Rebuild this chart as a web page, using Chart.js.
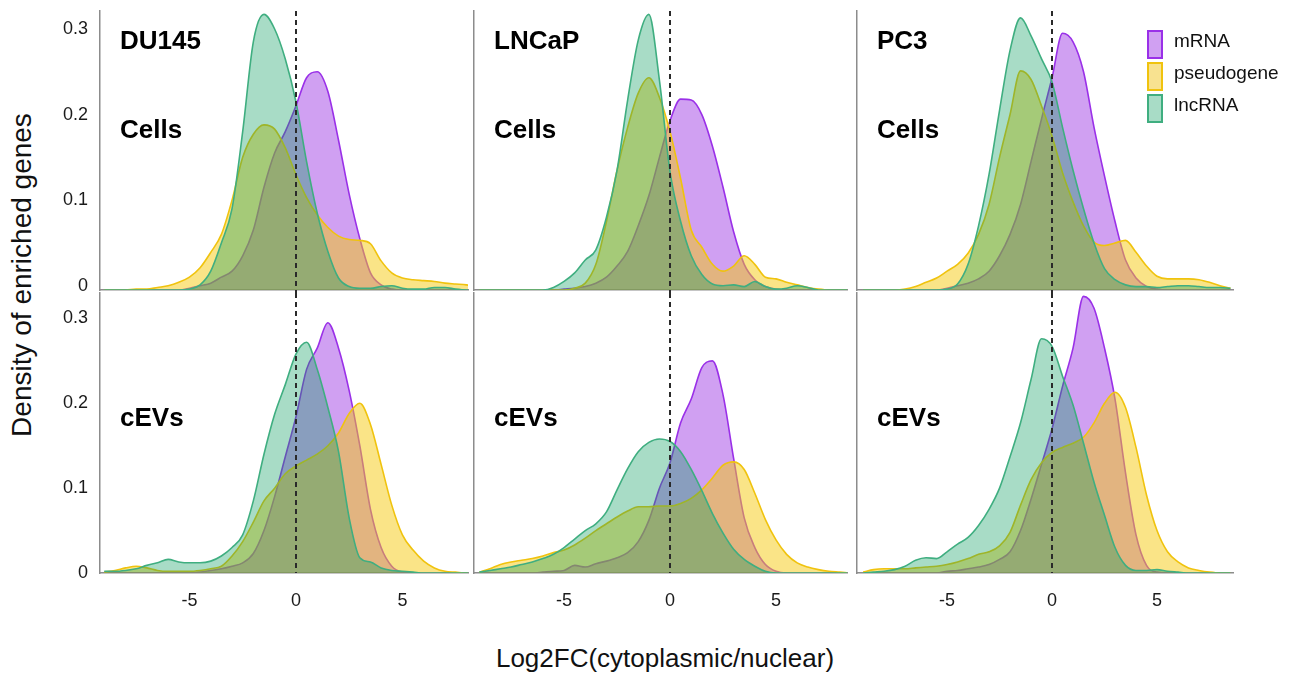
<!DOCTYPE html>
<html lang="en">
<head>
<meta charset="utf-8">
<title>Density of enriched genes</title>
<script src="https://cdn.jsdelivr.net/npm/chart.js@4.4.1/dist/chart.umd.min.js"></script>
<style>
  html, body { margin: 0; padding: 0; background: #fff; }
  body {
    position: relative; width: 1305px; height: 680px; overflow: hidden;
    font-family: "Liberation Sans", Arial, sans-serif; color: #111;
  }
  canvas { position: absolute; }
  .axis-title { position: absolute; white-space: nowrap; text-align: center; }
  #y-title { left: -178px; top: 261px; width: 400px; font-size: 28px; line-height: 28px; transform: rotate(-90deg); }
  #x-title { left: 365px; top: 645px; width: 600px; font-size: 26px; line-height: 26px; }
  .key-box { position: absolute; left: 1147px; width: 16px; height: 29px; box-sizing: border-box; border: 2px solid; }
  .key-text { position: absolute; left: 1174px; font-size: 19px; line-height: 20px; white-space: nowrap; }
</style>
</head>
<body>
<div id="y-title" class="axis-title">Density of enriched genes</div>
<div id="x-title" class="axis-title">Log2FC(cytoplasmic/nuclear)</div>

<script>
// log2 fold change grid shared by all density curves
const logFC = [-9, -8.5, -8, -7.5, -7, -6.5, -6, -5.5, -5, -4.5, -4, -3.5, -3, -2.5, -2, -1.5, -1, -0.5,
               0, 0.5, 1, 1.5, 2, 2.5, 3, 3.5, 4, 4.5, 5, 5.5, 6, 6.5, 7, 7.5, 8, 8.5];

// cells
const du145CellsMrna   = [0, 0, 0, 0, 0, 0, 0, 0, 0.002, 0.005, 0.008, 0.015, 0.022, 0.04, 0.07, 0.12, 0.16, 0.185, 0.215, 0.248, 0.255, 0.232, 0.175, 0.112, 0.06, 0.02, 0.006, 0.001, 0, 0, 0, 0, 0, 0, 0, 0];
const du145CellsPseudo = [0, 0, 0, 0.001, 0.001, 0.003, 0.005, 0.009, 0.015, 0.026, 0.044, 0.065, 0.105, 0.155, 0.182, 0.193, 0.188, 0.166, 0.135, 0.108, 0.088, 0.073, 0.063, 0.059, 0.058, 0.054, 0.034, 0.02, 0.014, 0.012, 0.011, 0.01, 0.008, 0.007, 0.006, 0.004];
const du145CellsLnc    = [0, 0, 0, 0, 0, 0, 0, 0, 0.001, 0.006, 0.022, 0.055, 0.095, 0.185, 0.29, 0.322, 0.305, 0.27, 0.22, 0.15, 0.09, 0.045, 0.014, 0.004, 0.002, 0.002, 0.004, 0.005, 0.002, 0.001, 0.001, 0.003, 0.003, 0.001, 0, 0];

const lncapCellsMrna   = [0, 0, 0, 0, 0, 0, 0, 0, 0.001, 0.002, 0.004, 0.008, 0.015, 0.028, 0.045, 0.075, 0.11, 0.155, 0.198, 0.223, 0.222, 0.205, 0.168, 0.12, 0.068, 0.03, 0.012, 0.004, 0.001, 0, 0, 0, 0, 0, 0, 0];
const lncapCellsPseudo = [0, 0, 0, 0, 0, 0, 0, 0, 0, 0.002, 0.008, 0.03, 0.08, 0.14, 0.19, 0.23, 0.248, 0.225, 0.185, 0.13, 0.07, 0.05, 0.03, 0.022, 0.028, 0.04, 0.03, 0.015, 0.013, 0.009, 0.006, 0.003, 0.001, 0, 0, 0];
const lncapCellsLnc    = [0, 0, 0, 0, 0, 0, 0, 0.003, 0.01, 0.02, 0.035, 0.047, 0.085, 0.14, 0.222, 0.292, 0.322, 0.245, 0.138, 0.08, 0.04, 0.018, 0.007, 0.005, 0.006, 0.004, 0.01, 0.004, 0.001, 0.002, 0.005, 0.003, 0, 0, 0, 0];

const pc3CellsMrna   = [0, 0, 0, 0, 0, 0, 0, 0, 0.002, 0.005, 0.008, 0.013, 0.022, 0.04, 0.065, 0.1, 0.15, 0.2, 0.248, 0.3, 0.29, 0.255, 0.19, 0.133, 0.08, 0.035, 0.014, 0.004, 0.001, 0, 0, 0, 0, 0, 0, 0];
const pc3CellsPseudo = [0, 0, 0, 0, 0.001, 0.004, 0.009, 0.014, 0.022, 0.03, 0.043, 0.065, 0.1, 0.155, 0.205, 0.256, 0.246, 0.215, 0.18, 0.137, 0.103, 0.075, 0.056, 0.052, 0.055, 0.058, 0.044, 0.028, 0.016, 0.013, 0.013, 0.013, 0.012, 0.009, 0.005, 0.002];
const pc3CellsLnc    = [0, 0, 0, 0, 0, 0, 0, 0, 0.001, 0.007, 0.03, 0.075, 0.135, 0.21, 0.28, 0.318, 0.297, 0.27, 0.243, 0.19, 0.14, 0.095, 0.055, 0.025, 0.012, 0.006, 0.004, 0.004, 0.003, 0.004, 0.005, 0.005, 0.004, 0.003, 0.003, 0.002];

// cEVs
const du145EvMrna   = [0, 0, 0, 0, 0, 0, 0, 0, 0, 0.001, 0.003, 0.005, 0.008, 0.012, 0.023, 0.05, 0.09, 0.137, 0.184, 0.24, 0.265, 0.295, 0.265, 0.215, 0.15, 0.075, 0.03, 0.008, 0.001, 0, 0, 0, 0, 0, 0, 0];
const du145EvPseudo = [0.001, 0.003, 0.006, 0.008, 0.006, 0.003, 0.002, 0.002, 0.002, 0.003, 0.005, 0.008, 0.02, 0.037, 0.06, 0.085, 0.1, 0.117, 0.126, 0.133, 0.14, 0.15, 0.165, 0.188, 0.2, 0.175, 0.128, 0.08, 0.045, 0.027, 0.014, 0.006, 0.002, 0.001, 0, 0];
const du145EvLnc    = [0.002, 0.002, 0.003, 0.005, 0.009, 0.012, 0.016, 0.013, 0.012, 0.012, 0.014, 0.02, 0.03, 0.045, 0.085, 0.14, 0.187, 0.222, 0.258, 0.272, 0.24, 0.195, 0.143, 0.065, 0.018, 0.013, 0.006, 0.003, 0.002, 0.001, 0, 0, 0, 0, 0, 0];

const lncapEvMrna   = [0, 0, 0, 0, 0, 0, 0.001, 0.002, 0.003, 0.009, 0.007, 0.011, 0.014, 0.018, 0.024, 0.037, 0.062, 0.1, 0.13, 0.177, 0.205, 0.242, 0.25, 0.21, 0.135, 0.065, 0.03, 0.01, 0.002, 0, 0, 0, 0, 0, 0, 0];
const lncapEvPseudo = [0.001, 0.005, 0.01, 0.013, 0.015, 0.017, 0.02, 0.024, 0.027, 0.033, 0.041, 0.05, 0.058, 0.066, 0.073, 0.078, 0.078, 0.079, 0.079, 0.082, 0.088, 0.098, 0.112, 0.127, 0.131, 0.122, 0.094, 0.063, 0.039, 0.022, 0.012, 0.007, 0.004, 0.002, 0.001, 0];
const lncapEvLnc    = [0.001, 0.003, 0.005, 0.007, 0.01, 0.013, 0.017, 0.022, 0.03, 0.04, 0.05, 0.058, 0.072, 0.098, 0.123, 0.143, 0.154, 0.158, 0.155, 0.143, 0.122, 0.097, 0.07, 0.047, 0.028, 0.016, 0.008, 0.002, 0, 0, 0, 0, 0, 0, 0, 0];

const pc3EvMrna   = [0, 0, 0, 0, 0, 0, 0, 0, 0.002, 0.003, 0.005, 0.007, 0.01, 0.016, 0.025, 0.05, 0.087, 0.128, 0.17, 0.22, 0.265, 0.326, 0.312, 0.265, 0.205, 0.118, 0.045, 0.009, 0.001, 0, 0, 0, 0, 0, 0, 0];
const pc3EvPseudo = [0.001, 0.004, 0.005, 0.005, 0.005, 0.006, 0.007, 0.008, 0.01, 0.013, 0.017, 0.022, 0.025, 0.032, 0.048, 0.08, 0.11, 0.13, 0.142, 0.148, 0.153, 0.16, 0.177, 0.2, 0.213, 0.195, 0.148, 0.092, 0.05, 0.025, 0.013, 0.006, 0.003, 0.001, 0, 0];
const pc3EvLnc    = [0, 0.001, 0.002, 0.004, 0.008, 0.015, 0.018, 0.017, 0.025, 0.034, 0.042, 0.056, 0.075, 0.1, 0.137, 0.177, 0.228, 0.276, 0.267, 0.232, 0.198, 0.153, 0.107, 0.068, 0.03, 0.009, 0.003, 0.003, 0.004, 0.002, 0.001, 0, 0, 0, 0, 0];

const cellLines  = ['DU145', 'LNCaP', 'PC3'];
const conditions = ['Cells', 'cEVs'];
const rnaTypes   = ['mRNA', 'pseudogene', 'lncRNA'];
const yTicks = [0, 0.1, 0.2, 0.3];
const xTicks = [-5, 0, 5];

// one row per condition, one entry per cell line: [mRNA, pseudogene, lncRNA]
const curves = [
  [[du145CellsMrna, du145CellsPseudo, du145CellsLnc],
   [lncapCellsMrna, lncapCellsPseudo, lncapCellsLnc],
   [pc3CellsMrna, pc3CellsPseudo, pc3CellsLnc]],
  [[du145EvMrna, du145EvPseudo, du145EvLnc],
   [lncapEvMrna, lncapEvPseudo, lncapEvLnc],
   [pc3EvMrna, pc3EvPseudo, pc3EvLnc]]
];

// translucent fills stacked mRNA -> pseudogene -> lncRNA
const lineColors = ['#9a30e8', '#f0c30e', '#3fae80'];
const fillColors = ['rgba(161, 65, 229, 0.5)', 'rgba(245, 201, 15, 0.5)', 'rgba(6, 155, 92, 0.35)'];
const keyColors  = ['#d0a0f2', '#f8e290', '#a8dcc6'];

// plot rectangles on the page
const columns = [
  { left: 100, right: 468, xMin: -9.2, xMax: 8.08 },
  { left: 474, right: 847, xMin: -9.25, xMax: 8.35 },
  { left: 857, right: 1233, xMin: -9.29, xMax: 8.62 }
];
const rows = [
  { top: 11, bottom: 290, yMax: 0.326, tickShift: -4, dashBelow: 8, condY: 127 },
  { top: 293, bottom: 573, yMax: 0.33, tickShift: 0, dashBelow: 0, condY: 133 }
];

Chart.defaults.font.family = '"Liberation Sans", Arial, sans-serif';
Chart.defaults.color = '#1a1a1a';

// dashed reference line at log2FC = 0
const zeroLine = {
  id: 'zeroLine',
  afterDatasetsDraw(chart, args, opts) {
    const { ctx, chartArea, scales } = chart;
    const x = Math.round(scales.x.getPixelForValue(0));
    ctx.save();
    ctx.strokeStyle = '#2a2a2a';
    ctx.lineWidth = 2;
    ctx.setLineDash([5, 4]);
    ctx.beginPath();
    ctx.moveTo(x, chartArea.top);
    ctx.lineTo(x, chartArea.bottom + opts.below);
    ctx.stroke();
    ctx.restore();
  }
};

// cell line and condition names inside each panel
const panelLabels = {
  id: 'panelLabels',
  afterDraw(chart, args, opts) {
    const { ctx, chartArea } = chart;
    ctx.save();
    ctx.fillStyle = '#000';
    ctx.font = 'bold 26px "Liberation Sans", Arial, sans-serif';
    ctx.textBaseline = 'alphabetic';
    if (opts.cellLine) ctx.fillText(opts.cellLine, chartArea.left + 20, chartArea.top + 38);
    ctx.fillText(opts.condition, chartArea.left + 20, chartArea.top + opts.condY);
    ctx.restore();
  }
};

rows.forEach((row, r) => {
  columns.forEach((col, c) => {
    // room around the plot; the y scale reserves label space above and below
    const padL = c === 0 ? 70 : 8;
    const padR = 8, padT = 28;
    const padB = r === 1 ? 50 : 28;

    const canvas = document.createElement('canvas');
    canvas.width = (col.right - col.left) + padL + padR;
    canvas.height = (row.bottom - row.top) + padT + padB;
    canvas.style.left = (col.left - padL) + 'px';
    canvas.style.top = (row.top - padT) + 'px';
    document.body.appendChild(canvas);

    const datasets = rnaTypes.map((name, k) => ({
      label: name,
      data: logFC.map((x, i) => ({ x: x, y: curves[r][c][k][i] })),
      borderColor: lineColors[k],
      backgroundColor: fillColors[k],
      borderWidth: 1.6,
      fill: 'origin',
      pointRadius: 0,
      cubicInterpolationMode: 'monotone',
      order: 3 - k
    }));

    new Chart(canvas.getContext('2d'), {
      type: 'line',
      data: { datasets: datasets },
      plugins: [zeroLine, panelLabels],
      options: {
        responsive: false,
        animation: false,
        events: [],
        layout: { padding: { top: padT, right: padR, left: 0, bottom: 0 } },
        plugins: {
          legend: { display: false },
          tooltip: { enabled: false },
          zeroLine: { below: row.dashBelow },
          panelLabels: { cellLine: r === 0 ? cellLines[c] : '', condition: conditions[r], condY: row.condY }
        },
        scales: {
          x: {
            type: 'linear',
            min: col.xMin,
            max: col.xMax,
            grid: { display: false, drawTicks: false },
            border: { display: true, color: '#8c8c8c', width: 1.5 },
            afterBuildTicks: s => { s.ticks = xTicks.map(v => ({ value: v })); },
            ticks: {
              display: r === 1,
              includeBounds: false,
              padding: 17,
              font: { size: 18 },
              callback: v => String(v)
            },
            afterFit: s => { s.height = padB; }
          },
          y: {
            min: 0,
            max: row.yMax,
            grid: { display: false, drawTicks: false },
            border: { display: true, color: '#8c8c8c', width: 1.5 },
            afterBuildTicks: s => { s.ticks = yTicks.map(v => ({ value: v })); },
            ticks: {
              display: c === 0,
              includeBounds: false,
              padding: 12,
              labelOffset: row.tickShift,
              font: { size: 18 },
              callback: v => (v === 0 ? '0' : v.toFixed(1))
            },
            afterFit: s => { s.width = padL; }
          }
        }
      }
    });
  });
});

// legend in the upper right corner
rnaTypes.forEach((name, k) => {
  const box = document.createElement('div');
  box.className = 'key-box';
  box.style.top = (30 + 32 * k) + 'px';
  box.style.borderColor = lineColors[k];
  box.style.background = keyColors[k];
  document.body.appendChild(box);

  const text = document.createElement('div');
  text.className = 'key-text';
  text.style.top = (30.5 + 32 * k) + 'px';
  text.textContent = name;
  document.body.appendChild(text);
});
</script>
</body>
</html>
